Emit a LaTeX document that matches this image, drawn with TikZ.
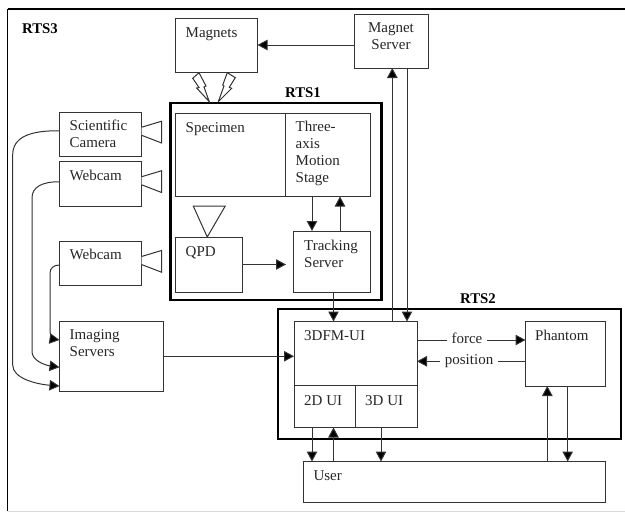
\documentclass[tikz,border=0pt]{standalone}
\usepackage{fontspec}
\setmainfont{Liberation Serif}
\usetikzlibrary{arrows.meta,calc}
\tikzset{
  box/.style   ={draw=black!80, line width=1pt, rectangle, inner sep=0pt, outer sep=0pt},
  rts/.style   ={draw=black, line width=2.6pt, rectangle, inner sep=0pt, outer sep=0pt},
  txt/.style   ={anchor=base west, inner sep=0pt, align=left, font=\fontsize{15}{17}\selectfont, text=black!85},
  rtxt/.style  ={anchor=base west, inner sep=0pt, font=\fontsize{14.8}{17}\selectfont\bfseries},
  arr/.style   ={-{Triangle[length=10pt,width=10.5pt,fill=black]}, line width=1pt, draw=black!80},
  lens/.style  ={draw=black!80, line width=1pt, fill=white},
  edgetxt/.style={fill=white, inner sep=0pt, text=black!85, font=\fontsize{15}{17}\selectfont},
}
\begin{document}
\begin{tikzpicture}[x=1pt, y=-1pt]
  \useasboundingbox (0,0) rectangle (625,512);
  % --- outer frame, open on the right ---
  \coordinate (fnw) at (7.5,9);
  \coordinate (fne) at (625,9);
  \coordinate (fsw) at (7.5,511);
  \coordinate (fse) at (625,511);
  \draw[black!15, line width=1pt] (fsw)--(fse);
  \draw[black, line width=1.6pt] (fsw)--(fnw);
  \draw[black, line width=2.6pt] (fnw)--(fne);
  \node[rtxt] (lrts3) at (22,33) {RTS3};
  % --- RTS1 and RTS2 frames ---
  \node[rts, minimum width=211pt, minimum height=197pt] (rtsone) at (276,201.5) {};
  \node[rtxt] (lrts1) at (285,97) {RTS1};
  \node[rts, minimum width=343pt, minimum height=130pt] (rtstwo) at (449.5,374) {};
  \node[rtxt] (lrts2) at (460,303) {RTS2};
  % --- top row ---
  \node[box, minimum width=82pt, minimum height=54pt] (magnets) at (216.5,45) {};
  \node[txt] (tmagnets) at (185.5,37.3) {Magnets};
  \node[box, minimum width=73.5pt, minimum height=54pt] (magserver) at (391.25,41) {};
  \node[txt, align=center, anchor=base] (tmagserver) at (391,49.3) {Magnet\\Server};
  % --- inside RTS1 ---
  \node[box, minimum width=110pt, minimum height=83pt] (specimen) at (230.5,155) {};
  \node[txt] (tspecimen) at (185.5,132.7) {Specimen};
  \node[box, minimum width=85pt, minimum height=83pt] (stage) at (328,155) {};
  \node[txt] (tstage) at (295.5,182.7) {Three-\\axis\\Motion\\Stage};
  \node[box, minimum width=66.5pt, minimum height=55pt] (qpd) at (208.75,264.5) {};
  \node[txt] (tqpd) at (185.5,256) {QPD};
  \node[box, minimum width=77pt, minimum height=61pt] (tracking) at (332,261.5) {};
  \node[txt] (ttracking) at (304,267) {Tracking\\Server};
  \draw[lens] ($(qpd.north)+(-15.5,-31)$) -- ($(qpd.north)+(16.5,-31)$) -- ($(qpd.north)+(-1.5,0)$) -- cycle;
  % --- cameras ---
  \node[box, minimum width=82pt, minimum height=44.5pt] (camera) at (100.5,134.25) {};
  \node[txt] (tcamera) at (69.5,147.7) {Scientific\\Camera};
  \node[box, minimum width=82pt, minimum height=44.5pt] (webcama) at (100.5,183.75) {};
  \node[txt] (twebcama) at (69.5,180.3) {Webcam};
  \node[box, minimum width=82pt, minimum height=44.5pt] (webcamb) at (100.5,263.5) {};
  \node[txt] (twebcamb) at (69.5,259.3) {Webcam};
  \foreach \c in {camera,webcama,webcamb} {
    \draw[lens] ($(\c.east)+(0,-7)$) -- ($(\c.east)+(20,-13)$) -- ($(\c.east)+(20,8.7)$) -- ($(\c.east)+(0,1)$);
  }
  \node[box, minimum width=104pt, minimum height=70.5pt] (imaging) at (111.5,356.25) {};
  \node[txt] (timaging) at (69.5,356.7) {Imaging\\Servers};
  % --- inside RTS2 ---
  \node[box, minimum width=123pt, minimum height=64pt] (dfm) at (355.5,353.5) {};
  \node[txt] (tdfm) at (304,340.7) {3DFM-UI};
  \node[box, minimum width=61pt, minimum height=42pt] (twod) at (324.5,406.5) {};
  \node[txt] (ttwod) at (304,405) {2D UI};
  \node[box, minimum width=62pt, minimum height=42pt] (threed) at (386,406.5) {};
  \node[txt] (tthreed) at (365,405) {3D UI};
  \node[box, minimum width=80pt, minimum height=64.5pt] (phantom) at (565.5,353.75) {};
  \node[txt] (tphantom) at (535,340) {Phantom};
  \node[box, minimum width=302.5pt, minimum height=41pt] (user) at (454.25,482) {};
  \node[txt] (tuser) at (313.3,480) {User};
  % --- magnet field bolts ---
  \draw[lens] (199,72.7)--(192.7,78.3)--(199,87.5)--(196.7,88)--(209.3,101.7)--(204,87)--(206,86)--cycle;
  \draw[lens] (227.3,72.7)--(235.3,77.7)--(229.3,87.3)--(231.7,88.3)--(218.3,101.7)--(224,86)--(222.7,85)--cycle;
  % --- x positions of the vertical connectors ---
  \foreach \n/\x in {xa/312,xb/340,xc/333.5,xd/392.3,xe/407,xf/381,xg/547.3,xh/567.7} {
    \coordinate (\n) at (\x,0);
  }
  % --- straight connectors ---
  \draw[arr] (magserver.west |- magnets.east) -- (magnets.east);
  \draw[arr] (stage.south -| xa) -- (tracking.north -| xa);
  \draw[arr] (tracking.north -| xb) -- (stage.south -| xb);
  \draw[arr, shorten >=7.5pt] (qpd.east) -- (qpd.east -| tracking.west);
  \draw[arr] (tracking.south -| xc) -- (dfm.north -| xc);
  \draw[arr] (dfm.north -| xd) -- (magserver.south -| xd);
  \draw[arr] (magserver.south -| xe) -- (dfm.north -| xe);
  \draw[arr] (imaging.east) -- (imaging.east -| dfm.west);
  \draw[arr] (twod.south -| xa) -- (user.north -| xa);
  \draw[arr] (user.north -| xc) -- (twod.south -| xc);
  \draw[arr] (threed.south -| xf) -- (user.north -| xf);
  \draw[arr] (user.north -| xg) -- (phantom.south -| xg);
  \draw[arr] (phantom.south -| xh) -- (user.north -| xh);
  % --- force and position ---
  \coordinate (yf) at (0,340);
  \coordinate (yp) at (0,361.3);
  \draw[arr] (dfm.east |- yf) -- node[edgetxt, pos=0.46, text width=40pt, align=center, text depth=3pt] (lforce) {force} (phantom.west |- yf);
  \draw[arr] (phantom.west |- yp) -- node[edgetxt, pos=0.52, text width=58pt, align=center, text depth=3pt] (lposition) {position} (dfm.east |- yp);
  % --- cables to the imaging servers ---
  \draw[arr] ($(camera.west)+(0,-3.5)$) .. controls (30,130.5) and (12.7,137) .. (12.7,155) -- (12.7,365) .. controls (12.7,378) and (35,384) .. ($(imaging.west)+(0,29.8)$);
  \draw[arr] ($(webcama.west)+(0,-2)$) .. controls (42,181.7) and (32,187) .. (32,198) -- (32,351.7) .. controls (32,360) and (44,365) .. ($(imaging.west)+(0,11)$);
  \draw[arr] ($(webcamb.west)+(0,1.5)$) .. controls (54,265) and (50,268) .. (50,273) -- (50,331) .. controls (50,336) and (53,339) .. ($(imaging.west)+(0,-16.3)$);
\end{tikzpicture}
\end{document}
